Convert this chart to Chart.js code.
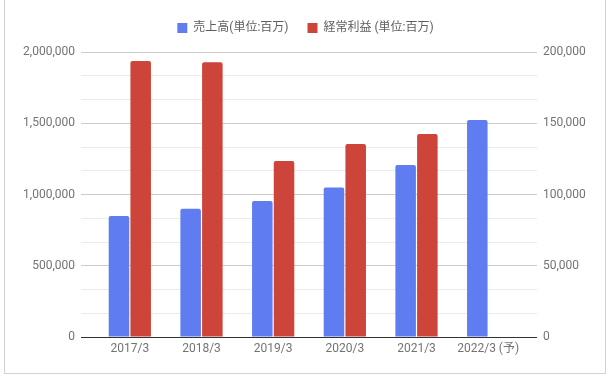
<!DOCTYPE html>
<html>
<head>
<meta charset="utf-8">
<script src="https://cdn.jsdelivr.net/npm/chart.js@4/dist/chart.umd.min.js"></script>
<style>
    body { margin: 0; background: #fff; }
    #wrap { position: relative; width: 611px; height: 379px; }
    #frame { position: absolute; left: 4px; top: -1px; width: 602px; height: 375px; box-sizing: border-box; border: 1px solid #d2d2d2; pointer-events: none; }
</style>
</head>
<body>
<div id="wrap">
    <canvas id="chart" width="611" height="379"></canvas>
    <div id="frame"></div>
</div>
<script>
// categories and values
const labels = ['2017/3', '2018/3', '2019/3', '2020/3', '2021/3', '2022/3 (予)']
const salesLabel = '売上高(単位:百万)'
const salesData = [850000, 900000, 955000, 1050000, 1207000, 1523000]
const profitLabel = '経常利益 (単位:百万)'
const profitData = [193700, 192800, 123500, 135400, 142500, null]

// major ticks of both axes (each gap has 2 minor lines)
const leftTicks = [0, 500000, 1000000, 1500000, 2000000]
const rightTicks = [0, 50000, 100000, 150000, 200000]

const fontFamily = 'Roboto, "Noto Sans CJK JP", sans-serif'

function withMinor(majors) {
    var values = []
    for (var i = 0; i < majors.length - 1; i++) {
        var step = (majors[i + 1] - majors[i]) / 3
        values.push(majors[i], majors[i] + step, majors[i] + 2 * step)
    }
    values.push(majors[majors.length - 1])
    return values
}

function gridColor(majors) {
    return function (c) {
        if (!c.tick) return '#e6e6e6'
        if (c.tick.value === 0) return '#333333'
        return majors.indexOf(c.tick.value) >= 0 ? '#cccccc' : '#ebebeb'
    }
}

function tickLabel(majors) {
    return function (value) {
        return majors.indexOf(value) >= 0 ? value.toLocaleString('en-US') : ''
    }
}

var options = {
    responsive: false,
    animation: false,
    devicePixelRatio: 1,
    layout: {
        padding: { top: 3, left: 0, right: 0, bottom: 0 }
    },
    plugins: {
        legend: {
            position: 'top',
            labels: {
                boxWidth: 10,
                boxHeight: 10,
                padding: 19,
                color: '#5e5e5e',
                font: { family: fontFamily, size: 12 }
            }
        },
        // spacer between legend and plot
        title: {
            display: true,
            text: '',
            weight: 500,
            padding: 0,
            font: { size: 8, lineHeight: 1 }
        },
        tooltip: { enabled: false }
    },
    scales: {
        x: {
            grid: { display: false, drawTicks: false },
            border: { display: true, color: '#333333', width: 1 },
            ticks: {
                color: '#737373',
                padding: 5,
                font: { family: fontFamily, size: 12 }
            },
            afterFit: function (scale) { scale.height = 42 }
        },
        y: {
            position: 'left',
            min: 0,
            max: 2000000,
            afterBuildTicks: function (scale) {
                scale.ticks = withMinor(leftTicks).map(v => ({ value: v }))
            },
            afterFit: function (scale) { scale.width = 94 },
            grid: {
                color: gridColor(leftTicks),
                tickLength: 13
            },
            border: { display: false },
            ticks: {
                autoSkip: false,
                color: '#737373',
                padding: 6,
                font: { family: fontFamily, size: 12 },
                callback: tickLabel(leftTicks)
            }
        },
        y1: {
            position: 'right',
            min: 0,
            max: 200000,
            afterBuildTicks: function (scale) {
                scale.ticks = withMinor(rightTicks).map(v => ({ value: v }))
            },
            afterFit: function (scale) { scale.width = 87 },
            grid: {
                color: gridColor(rightTicks),
                drawOnChartArea: false,
                tickLength: 13
            },
            border: { display: false },
            ticks: {
                autoSkip: false,
                color: '#737373',
                padding: 6,
                font: { family: fontFamily, size: 12 },
                callback: tickLabel(rightTicks)
            }
        }
    }
}

var datasets = [{
    label: salesLabel,
    data: salesData,
    backgroundColor: '#5f7cf1',
    yAxisID: 'y',
    categoryPercentage: 0.606,
    barPercentage: 0.945,
    borderRadius: { topLeft: 2, topRight: 2 },
    borderSkipped: 'start'
},
{
    label: profitLabel,
    data: profitData,
    backgroundColor: '#cd453a',
    yAxisID: 'y1',
    categoryPercentage: 0.606,
    barPercentage: 0.945,
    borderRadius: { topLeft: 2, topRight: 2 },
    borderSkipped: 'start'
}]

var MyChart = new Chart(document.getElementById('chart'), {
    type: 'bar',
    data: {
        labels: labels,
        datasets: datasets
    },
    options
})
</script>
</body>
</html>
